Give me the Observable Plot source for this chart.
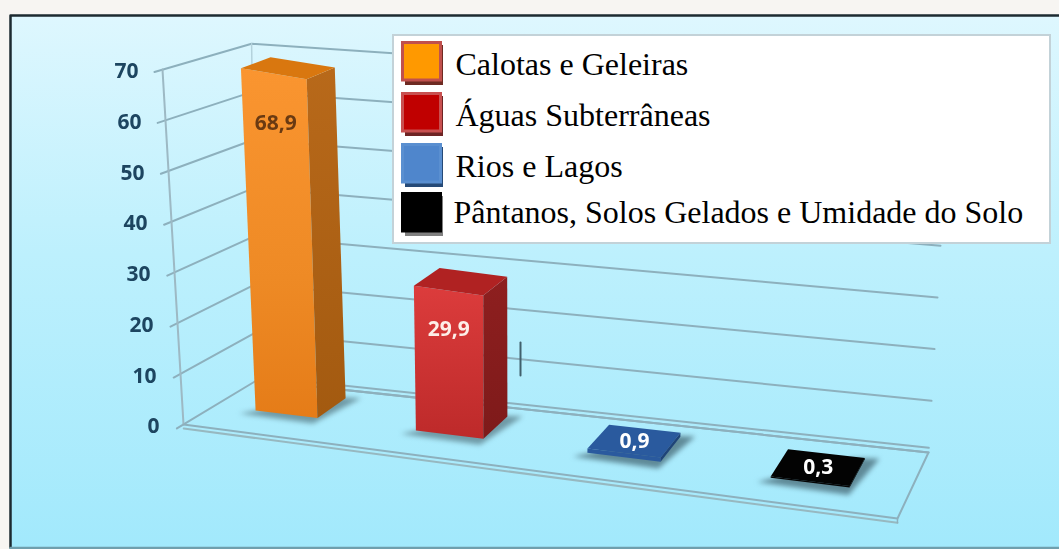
<!DOCTYPE html>
<html><head><meta charset="utf-8">
<script src="https://cdn.jsdelivr.net/npm/d3@7"></script>
<script src="https://cdn.jsdelivr.net/npm/@observablehq/plot@0.6"></script>
<style>html,body{margin:0;padding:0;background:#f7f5f2;overflow:hidden}svg{display:block}</style>
</head><body><div id="chart"></div>
<script>
// ---- data ----
const categories = ["Calotas e Geleiras", "Águas Subterrâneas", "Rios e Lagos", "Pântanos, Solos Gelados e Umidade do Solo"];
const values = [68.9, 29.9, 0.9, 0.3];
const ticks = [0, 10, 20, 30, 40, 50, 60, 70];
const frontColors = ["url(#gOrange)", "url(#gRed)", "#2a5a9e", "#050505"];
const sideColors = ["url(#gOrangeSide)", "url(#gRedSide)", "#1f4478", "#000000"];
const topColors = ["#d9770f", "#b02222", "#2a5a9e", "#030303"];
const labelColors = ["#6a3a12", "#fdeee8", "#ffffff", "#ffffff"];
const swatchFill = ["#ff9900", "#c00000", "#4f86cc", "#000000"];
const swatchEdge = ["#c0504d", "#c85050", "#5a8fd0", "#000000"];
const swatchShadow = ["#6e2a22", "#6e2424", "#264a77", "#808080"];

// ---- oblique projection of the 3D scene onto the plot's x / y scales ----
const W = 1059, H = 549, k = 355 / 70, Y0 = 424;
const FL = [183, 424], FR = [897, 518], BL = [256, 380], BR = [928, 452];
const floor = (u, d) => [
  FL[0] + u * (FR[0] - FL[0]) + d * (BL[0] - FL[0]) + u * d * (BR[0] - BL[0] - FR[0] + FL[0]),
  FL[1] + u * (FR[1] - FL[1]) + d * (BL[1] - FL[1]) + u * d * (BR[1] - BL[1] - FR[1] + FL[1])
];
const pt = (px, py) => ({x: px, y: (Y0 - py) / k});
// wall and axis: lean and height per unit grow with u and d
const wall = (u, d, h) => {
  const [fx, fy] = floor(u, d);
  return pt(fx + h * (-0.3 + 0.37 * u + 0.23 * d), fy - h * (5.07 + 0.36 * u - 0.26 * d));
};
// bars
const bar = (u, d, h) => {
  const [fx, fy] = floor(u, d);
  return pt(fx + h * (-0.25 + 0.63 * u), fy - h * (5.0 - 0.55 * u - 0.28 * (d - 0.43)));
};
const cu = i => 0.103 + 0.2265 * i + 0.0085 * i * i;
const bw = i => 0.089 + 0.008 * i;
const d0 = i => 0.43 - 0.0078 * i * i;
const d1 = i => 0.85 - 0.0055 * i * i;

const poly = (pts, fill, extra = {}) => Plot.line(pts, {x: "x", y: "y", fill, stroke: "none", curve: "linear-closed", ...extra});
const seg = (pts, stroke, strokeWidth, extra = {}) => Plot.line(pts, {x: "x", y: "y", stroke, strokeWidth, ...extra});

const defs = () => {
  const s = d3.create("svg:defs");
  const grad = (id, stops, x2 = 0, y2 = 1) => {
    const g = s.append("linearGradient").attr("id", id).attr("x1", 0).attr("y1", 0).attr("x2", x2).attr("y2", y2);
    stops.forEach(([o, c]) => g.append("stop").attr("offset", o).attr("stop-color", c));
  };
  grad("gBg", [[0, "#def7fe"], [0.45, "#bdf0fd"], [1, "#a2e9fc"]]);
  grad("gOrange", [[0, "#fa9530"], [0.6, "#ee8a25"], [1, "#e57c18"]]);
  grad("gOrangeSide", [[0, "#b8691a"], [1, "#a35a10"]]);
  grad("gRed", [[0, "#dc3c3c"], [1, "#bd2a2a"]]);
  grad("gRedSide", [[0, "#8e1f1f"], [1, "#7e1a1a"]]);
  return s.node();
};

const marks = [defs];
// backdrop with frame: dark on top and left, a soft band at the bottom
marks.push(Plot.rect([0], {
  x1: () => 10, x2: () => W + 6,
  y1: () => (Y0 - 15) / k, y2: () => (Y0 - 547) / k,
  fill: "url(#gBg)"
}));
marks.push(seg([pt(10, 547), pt(10, 15), pt(W, 15)], "#1c2a30", 2.5));
marks.push(seg([pt(10, 547.5), pt(W, 547.5)], "#6f9fad", 2.5));

// wall gridlines, running from the left of the axis to the back corner and along the back wall
const gridColor = "#8db0bd", blur = "blur(0.6px)";
for (const t of ticks) {
  marks.push(seg([wall(0, -0.09, t), wall(0, 1, t), wall(1, 1, t)], gridColor, 2, {imageFilter: blur}));
}
// axis, floor with its thickness
marks.push(seg([wall(0, 0, 70), wall(0, 0, 0)], "#9db9c4", 2, {imageFilter: blur}));
marks.push(seg([wall(0, 1, 70), wall(0, 1, 0)], "#b4d2dc", 1.5, {imageFilter: blur}));
marks.push(seg([wall(0, 1, 0.9), wall(1, 1, 0.9)], gridColor, 2, {imageFilter: blur}));
marks.push(seg([wall(0, 0, 0), wall(1, 0, 0), wall(1, 1, 0), wall(0, 1, 0)], gridColor, 2, {imageFilter: blur}));
marks.push(seg([wall(0, 0, -0.8), wall(1, 0, -0.8)], "#97b8c0", 2, {imageFilter: blur}));
marks.push(seg([wall(1, 0, 0), wall(1, 0, -0.8)], gridColor, 1.5, {imageFilter: blur}));

// stray tick between the red bar and the blue one
marks.push(seg([pt(520, 342), pt(520, 375)], "#41606c", 2, {imageFilter: blur}));

// bars
values.forEach((v, i) => {
  const u0 = cu(i) - bw(i) / 2, u1 = cu(i) + bw(i) / 2, a = d0(i), b = d1(i);
  // floor shadow
  marks.push(poly([bar(u0 - 0.014, a - 0.09, 0), bar(u1 + 0.004, a - 0.11, 0), bar(u1 + 0.02, b + 0.03, 0), bar(u1 - 0.015, b, 0)],
    i > 1 ? "#5f8a98" : "#6f9aa6", {imageFilter: "blur(2.5px)"}));
  marks.push(poly([bar(u0, a, 0), bar(u1, a, 0), bar(u1, a, v), bar(u0, a, v)], frontColors[i], {imageFilter: blur}));
  marks.push(poly([bar(u1, a, 0), bar(u1, b, 0), bar(u1, b, v), bar(u1, a, v)], sideColors[i], {imageFilter: blur}));
  marks.push(poly([bar(u0, a, v), bar(u1, a, v), bar(u1, b, v), bar(u0, b, v)], topColors[i], {imageFilter: blur}));
});

// value labels on the bars
const valueLabels = values.map((v, i) => {
  const p = v > 5 ? bar(cu(i), d0(i), v * 0.95 - 6.5) : bar(cu(i), (d0(i) + d1(i)) / 2, v);
  return {...p, text: v.toFixed(1).replace(".", ","), color: labelColors[i]};
});
marks.push(Plot.text(valueLabels, {
  x: "x", y: "y", text: "text", fill: "color", fontFamily: "'Open Sans'", fontWeight: 700, fontSize: 21,
  imageFilter: "blur(0.5px)"
}));

// tick labels, right-aligned against the slanted axis
marks.push(Plot.text(ticks, {
  x: t => wall(0, 0, t).x, y: t => wall(0, 0, t).y, text: t => String(t),
  textAnchor: "end", dx: -24, dy: 2, fill: "#1d4560", fontFamily: "'Open Sans'", fontWeight: 700, fontSize: 21,
  imageFilter: "blur(0.5px)"
}));

// legend box drawn inside the plot
const lx = 393, ly = 35;
const box = (x0, y0, x1, y1, o) => Plot.rect([0], {x1: () => x0, x2: () => x1, y1: () => (Y0 - y0) / k, y2: () => (Y0 - y1) / k, ...o});
marks.push(box(lx, ly, 1050, 243, {fill: "#ffffff", stroke: "#c3d2d8", strokeWidth: 2}));
const rowTop = [41, 92, 143, 192], rowBase = [75, 126, 177, 223], textX = [455, 455, 455, 453];
categories.forEach((c, i) => {
  const t = rowTop[i];
  marks.push(box(405, t + 4, 443, t + 44, {fill: swatchShadow[i]}));
  marks.push(box(402.5, t + 1.5, 440.5, t + 39, {fill: swatchFill[i], stroke: swatchEdge[i], strokeWidth: 3}));
});
marks.push(Plot.text(categories, {
  x: (c, i) => textX[i], y: (c, i) => (Y0 - rowBase[i]) / k, text: c => c,
  textAnchor: "start", lineAnchor: "bottom", dy: -1, fill: "#000", fontFamily: "'Liberation Serif'", fontSize: 32
}));

const chart = Plot.plot({
  width: W, height: H, margin: 0,
  x: {domain: [0, W], range: [0, W], axis: null},
  y: {domain: [(Y0 - H) / k, Y0 / k], range: [H, 0], axis: null},
  style: {background: "transparent"},
  marks
});
document.getElementById("chart").append(chart);
</script>
</body></html>
